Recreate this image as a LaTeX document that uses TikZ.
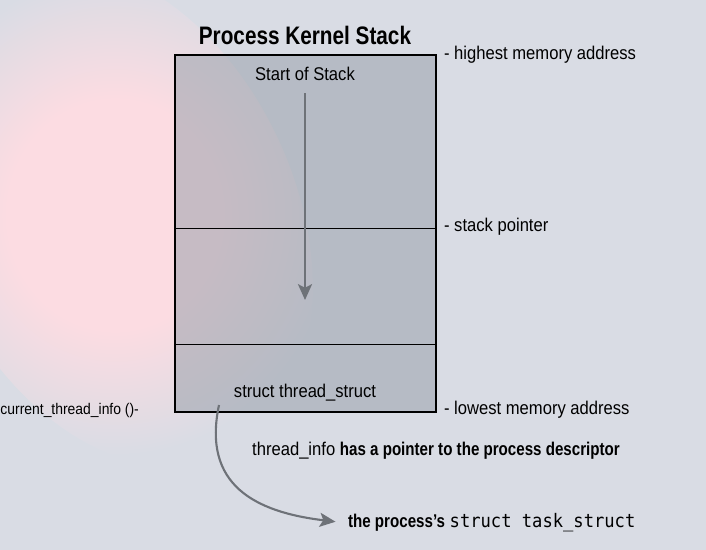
\documentclass[tikz,border=0pt]{standalone}
\usepackage{fontspec}
\setmainfont{Liberation Sans}[FakeStretch=0.9, BoldFeatures={FakeStretch=0.82}]
\newfontfamily\codefont{DejaVu Sans Mono}[FakeStretch=0.92]
\usetikzlibrary{arrows.meta,positioning,calc}
\definecolor{bgcol}{HTML}{D9DCE4}
\definecolor{blobpink}{HTML}{FCDCE2}
\definecolor{boxgray}{HTML}{9AA0AC}
\definecolor{arrowgray}{HTML}{6E7278}
\pgfdeclareradialshading{pinkblob}{\pgfpoint{0bp}{0bp}}{color(0bp)=(blobpink); color(12bp)=(blobpink); color(25bp)=(bgcol); color(50bp)=(bgcol)}

\tikzset{
  label text/.style={font=\fontsize{10.5}{12}\selectfont, inner sep=1pt},
  stackbox/.style={draw, line width=1.2pt, fill=boxgray, fill opacity=0.55,
    minimum width=5.22cm, minimum height=7.14cm, inner sep=0pt},
  grow arrow/.style={draw=arrowgray, line width=1.2pt, -{Stealth[length=9pt,width=8pt,inset=2pt]}},
}

\begin{document}
\begin{tikzpicture}[x=0.02cm, y=-0.02cm]
	\useasboundingbox (0,0) rectangle (706,550);
	\clip (0,0) rectangle (706,550);
	
	% Background
	\fill[bgcol] (0,0) rectangle (706,550);
	\shade[shading=pinkblob, rotate around={25:(115,215)}]
		(115,215) ellipse (180 and 265);
	
	% Stack box
	\node[font=\fontsize{14.4}{16}\selectfont\bfseries] (title) at (305,35) {Process Kernel Stack};
	\node[stackbox] (stack) at (305.5,233.5) {};
	\draw[thin] (175,228) -- (436,228);
	\draw[thin] (175,344) -- (436,344);
	
	% Inside the stack
	\node[label text] (start) at (305,74) {Start of Stack};
	\coordinate (growend) at (305,300);
	\draw[grow arrow, shorten <=6pt] (start.south) -- (growend);
	\node[label text] (thread) at (305,393) {struct thread\_struct};
	
	% Addresses
	\node[label text, anchor=west] (high) at (442,55) {- highest memory address};
	\node[label text, anchor=west] (sp) at (442,227) {- stack pointer};
	\node[label text, anchor=west] (low) at (442,410) {- lowest memory address};
	\node[label text, anchor=east, font=\fontsize{8.8}{11}\selectfont] (cur) at (141,410) {current\_thread\_info ()-};
	
	% Pointer to task_struct
	\node[label text] (ptr) at (436,451) {thread\_info \textbf{has a pointer to the process descriptor}};
	\node[label text, anchor=west] (task) at (346,523) {\textbf{the process’s} {\codefont\fontsize{10.6}{12}\selectfont struct task\_struct}};
	\coordinate (ptrstart) at (219,405);
	\draw[grow arrow, shorten >=6pt] (ptrstart) .. controls (202,485) and (255,512) .. (task.west);
\end{tikzpicture}
\end{document}
